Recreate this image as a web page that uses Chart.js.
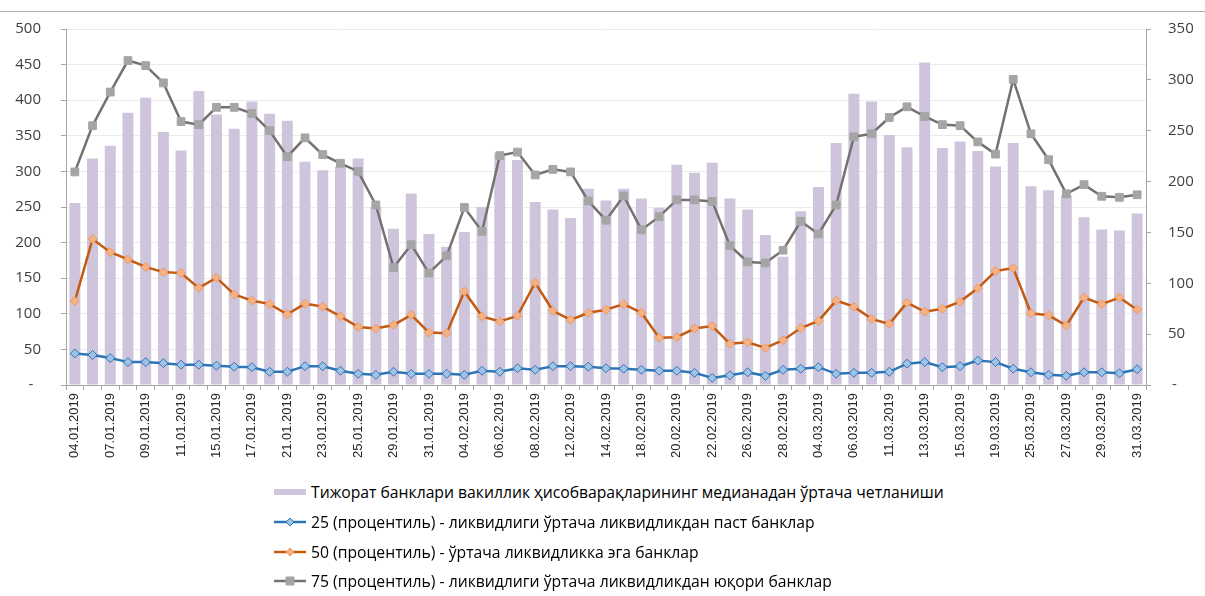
<!DOCTYPE html>
<html><head><meta charset="utf-8">
<script src="https://cdn.jsdelivr.net/npm/chart.js@4.4.1/dist/chart.umd.min.js"></script>
<style>
html,body{margin:0;padding:0;background:#fff;}
#wrap{position:relative;width:1205px;height:596px;overflow:hidden;background:#fff;}
#topline{position:absolute;left:0;top:11px;width:1205px;height:1px;background:#b0b0b0;}
#cv{position:absolute;left:0;top:0;}
.li{position:absolute;left:272px;height:30px;white-space:nowrap;display:flex;align-items:center;color:#000;font-family:'Open Sans',sans-serif;}
.li canvas{margin-right:5px;}
</style></head>
<body><div id="wrap"><div id="topline"></div><canvas id="cv" width="1205" height="475"></canvas><div id="legend"></div></div>
<script>
const labels = ['04.01.2019','05.01.2019','07.01.2019','08.01.2019','09.01.2019','10.01.2019','11.01.2019','14.01.2019','15.01.2019','16.01.2019','17.01.2019','18.01.2019','21.01.2019','22.01.2019','23.01.2019','24.01.2019','25.01.2019','28.01.2019','29.01.2019','30.01.2019','31.01.2019','01.02.2019','04.02.2019','05.02.2019','06.02.2019','07.02.2019','08.02.2019','11.02.2019','12.02.2019','13.02.2019','14.02.2019','15.02.2019','18.02.2019','19.02.2019','20.02.2019','21.02.2019','22.02.2019','25.02.2019','26.02.2019','27.02.2019','28.02.2019','01.03.2019','04.03.2019','05.03.2019','06.03.2019','07.03.2019','11.03.2019','12.03.2019','13.03.2019','14.03.2019','15.03.2019','18.03.2019','19.03.2019','20.03.2019','25.03.2019','26.03.2019','27.03.2019','28.03.2019','29.03.2019','30.03.2019','31.03.2019'];

const deviation = [255.5,318,336,382.5,403.5,355.5,329.5,413,380,360,398,381,371,313.5,301.5,
  307,318,250,219.5,269,212,194,215,250,326,316,257,246.5,234.5,275.5,259,
  275.5,262,249,309.5,298,312,262,246.5,210.5,180,244,278,340,409,398,
  351,334,453,333,342,328.5,307,340,279,273.5,266,235.5,218.5,217,241];

const p25 = [31,29.5,26.5,22.5,22.5,21.5,20,20,19,18,17.5,13,13,18.5,18.5,
  14,11,10,13,11,11,11,10,14,13,16.5,15,18.5,18.5,18,16.5,
  16,15,14,14,12,7,9.5,12.5,9,15,16,17.5,11,12,12,
  13,21,22.5,17.5,18.5,24,22.5,16,12.5,10,9,12.5,12.5,11.5,15.5];

const p50 = [82.5,143.5,130.5,123.5,116,111,110,95.5,105.5,89,83,79.5,69.5,80,77,
  67.5,57,55.5,59,69,51.5,51,92,67.5,62.5,68,100.5,73,64,71,74,
  79.5,71,46.5,47,55.5,58,40.5,42,36.5,44,56,63,83,77,65,
  60,81,72,75,82,95,112,115,70.5,68.5,58.5,86,79.5,86,74];

const p75 = [209.5,255,288,319,314,297,259,256,273,273,267,250,224.5,243,226.5,
  218,210,177,115.5,138,110,127,174.5,151,225.5,229,206.5,212,209.5,181,162,
  186,152.5,165.5,182,182,180.5,137,121,120,132.5,161,148.5,177,244,247,
  263,273.5,264,256,255,239,227,300.5,247,221.5,188,197,185.5,184.5,187];

const seriesNames = [
  'Тижорат банклари вакиллик ҳисобварақларининг медианадан ўртача четланиши',
  '25 (процентиль) - ликвидлиги ўртача ликвидликдан паст банклар',
  '50 (процентиль) - ўртача ликвидликка эга банклар',
  '75 (процентиль) - ликвидлиги ўртача ликвидликдан юқори банклар'
];

const leftAxis = {min:0, max:500, step:50};
const rightAxis = {min:0, max:350, step:50};

const C = {
  bar:'#CEC5DD',
  blue:'#2E75B6', blueFill:'#9DC3E6',
  orange:'#C55A11', orangeFill:'#F4B183', orangeEdge:'#F09A5E',
  gray:'#767171', grayFill:'#A5A5A5',
  axis:'#a6a6a6', grid:'#ececec', tickText:'#404040'
};

const ctx = document.getElementById('cv').getContext('2d');
new Chart(ctx, {
  type:'bar',
  data:{labels, datasets:[
    {type:'line', label:seriesNames[1], data:p25, yAxisID:'y1', borderColor:C.blue, borderWidth:2.5,
     pointStyle:'rectRot', pointRadius:4.5, pointBackgroundColor:C.blueFill, pointBorderColor:C.blue, pointBorderWidth:1, tension:0, order:3},
    {type:'line', label:seriesNames[2], data:p50, yAxisID:'y1', borderColor:C.orange, borderWidth:2.5,
     pointStyle:'rectRot', pointRadius:4.5, pointBackgroundColor:C.orangeFill, pointBorderColor:C.orangeEdge, pointBorderWidth:1, tension:0, order:2},
    {type:'line', label:seriesNames[3], data:p75, yAxisID:'y1', borderColor:C.gray, borderWidth:2.5,
     pointStyle:'rect', pointRadius:5.5, pointBackgroundColor:C.grayFill, pointBorderColor:C.grayFill, pointBorderWidth:1, tension:0, order:1},
    {type:'bar', label:seriesNames[0], data:deviation, yAxisID:'y', backgroundColor:C.bar,
     barPercentage:0.62, categoryPercentage:1, order:10}
  ]},
  options:{
    responsive:false, animation:false, events:[],
    layout:{padding:{top:29,left:0,right:0,bottom:0}},
    plugins:{legend:{display:false}, tooltip:{enabled:false}},
    scales:{
      x:{offset:true,
         grid:{offset:true, drawOnChartArea:false, tickLength:5, color:C.axis},
         border:{color:C.axis},
         ticks:{autoSkip:false, maxRotation:90, minRotation:90, padding:3,
                font:{family:'Liberation Sans', size:13}, color:'#262626',
                callback:(v,i)=> i%2===0 ? labels[i] : ''},
         afterFit:s=>{s.height=90;}},
      y:{position:'left', min:leftAxis.min, max:leftAxis.max,
         ticks:{stepSize:leftAxis.step, padding:20, font:{family:'Open Sans', size:15}, color:C.tickText,
                callback:v=> v===0 ? '-  ' : v},
         grid:{color:C.grid, tickLength:5, tickColor:C.axis},
         border:{color:C.axis},
         afterFit:s=>{s.width=66;}},
      y1:{position:'right', min:rightAxis.min, max:rightAxis.max,
          ticks:{stepSize:rightAxis.step, padding:17, font:{family:'Open Sans', size:15}, color:C.tickText,
                 callback:v=> v===0 ? ' -' : v},
          grid:{drawOnChartArea:false, tickLength:5, color:C.axis},
          border:{color:C.axis},
          afterFit:s=>{s.width=59;}}
    }
  }
});

// HTML legend
const legendRows = [
  {kind:'bar', color:C.bar},
  {kind:'diamond', line:C.blue, fill:C.blueFill, edge:C.blue},
  {kind:'diamond', line:C.orange, fill:C.orangeFill, edge:C.orangeEdge},
  {kind:'square', line:C.gray, fill:C.grayFill, edge:C.grayFill}
];
const rowCenters = [492, 522, 552, 581];
const mctx = document.createElement('canvas').getContext('2d');
mctx.font = '100px "Open Sans"';
const fs = 100 * 633 / mctx.measureText(seriesNames[0]).width;
const lg = document.getElementById('legend');
legendRows.forEach((r, i) => {
  const row = document.createElement('div');
  row.className = 'li';
  row.style.top = (rowCenters[i] - 15) + 'px';
  row.style.fontSize = fs.toFixed(2) + 'px';
  const sw = document.createElement('canvas');
  sw.width = 34; sw.height = 14;
  const c = sw.getContext('2d');
  if (r.kind === 'bar') {
    c.fillStyle = r.color; c.fillRect(2, 4, 32, 6);
  } else {
    c.strokeStyle = r.line; c.lineWidth = 2.5;
    c.beginPath(); c.moveTo(2, 7); c.lineTo(34, 7); c.stroke();
    c.fillStyle = r.fill; c.strokeStyle = r.edge; c.lineWidth = 1;
    c.beginPath();
    if (r.kind === 'diamond') {
      c.moveTo(18, 3); c.lineTo(22, 7); c.lineTo(18, 11); c.lineTo(14, 7); c.closePath();
    } else {
      c.rect(14, 3, 8, 8);
    }
    c.fill(); c.stroke();
  }
  row.appendChild(sw);
  const t = document.createElement('span');
  t.textContent = seriesNames[i];
  row.appendChild(t);
  lg.appendChild(row);
});
</script>
</body></html>
